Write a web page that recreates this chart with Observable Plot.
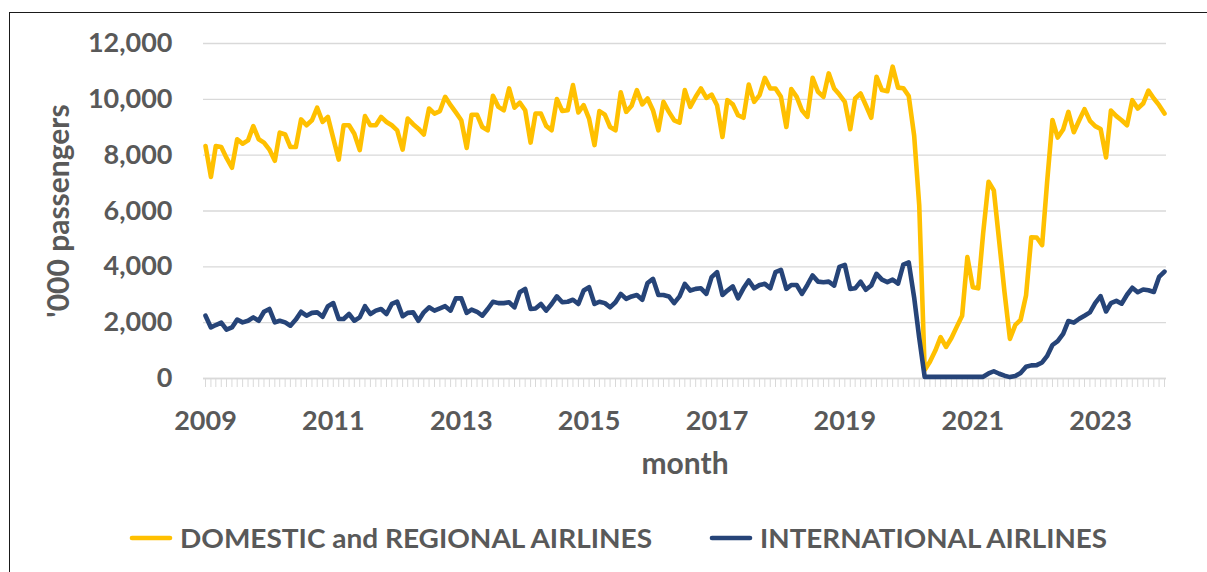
<!DOCTYPE html>
<html>
<head>
<meta charset="utf-8">
<script src="https://cdn.jsdelivr.net/npm/d3@7"></script>
<script src="https://cdn.jsdelivr.net/npm/@observablehq/plot@0.6"></script>
<style>
  body { margin: 0; background: #fff; }
  #wrap { position: relative; width: 1207px; height: 572px; overflow: hidden; background: #fff; font-family: Lato, "Open Sans", sans-serif; }
  #chart { position: absolute; left: 0; top: 0; }
  #legend { position: absolute; left: 0; top: 500px; }
  #frame { position: absolute; left: 9px; top: 12px; width: 1400px; height: 800px; border: 1px solid #1a1a1a; box-sizing: border-box; pointer-events: none; }
</style>
</head>
<body>
<div id="wrap">
  <div id="chart"></div>
  <div id="legend"></div>
  <div id="frame"></div>
</div>
<script>
// ---- data ('000 passengers, monthly Jan 2009 .. Jan 2024) ----
const seriesNames = ["DOMESTIC and REGIONAL AIRLINES", "INTERNATIONAL AIRLINES"];
const seriesColors = ["#FFC000", "#264478"];
const firstMonth = "2009-01-01";
const lastMonth = "2024-01-01";
const yearTicks = [2009, 2011, 2013, 2015, 2017, 2019, 2021, 2023];
const yTicks = [0, 2000, 4000, 6000, 8000, 10000, 12000];
const yTitle = "'000 passengers";
const xTitle = "month";

const domestic = [
  8330, 7220, 8330, 8290, 7900, 7550, 8570, 8410, 8530, 9040,
  8570, 8450, 8200, 7800, 8810, 8740, 8290, 8290, 9280, 9070,
  9250, 9700, 9190, 9370, 8600, 7840, 9070, 9070, 8770, 8180,
  9400, 9070, 9070, 9370, 9190, 9070, 8890, 8200, 9310, 9110,
  8950, 8740, 9670, 9490, 9580, 10090, 9790, 9530, 9250, 8260,
  9450, 9450, 9010, 8890, 10130, 9730, 9610, 10390, 9700, 9880,
  9610, 8450, 9490, 9490, 9050, 8890, 10010, 9580, 9610, 10510,
  9530, 9790, 9310, 8360, 9580, 9450, 9010, 8890, 10250, 9550,
  9770, 10330, 9820, 10030, 9610, 8890, 9910, 9550, 9250, 9170,
  10330, 9730, 10090, 10390, 10050, 10170, 9790, 8650, 9970, 9820,
  9430, 9340, 10530, 9910, 10150, 10770, 10390, 10390, 10090, 9010,
  10370, 10090, 9610, 9370, 10770, 10270, 10090, 10930, 10390, 10170,
  9910, 8930, 10030, 10210, 9790, 9340, 10810, 10330, 10290, 11170,
  10420, 10400, 10120, 8700, 6200, 300, 600, 1000, 1480, 1130,
  1450, 1850, 2250, 4350, 3270, 3230, 5200, 7050, 6740, 4900,
  3100, 1420, 1920, 2100, 2970, 5060, 5050, 4780, 7000, 9260,
  8630, 8920, 9550, 8820, 9250, 9650, 9230, 9040, 8940, 7920,
  9600, 9400, 9250, 9070, 9970, 9670, 9850, 10310, 10030, 9790,
  9490
];

const international = [
  2250, 1830, 1915, 2000, 1750, 1830, 2110, 2010, 2070, 2190,
  2070, 2390, 2490, 2010, 2070, 2010, 1890, 2110, 2390, 2250,
  2350, 2370, 2210, 2590, 2700, 2130, 2130, 2310, 2070, 2190,
  2590, 2310, 2430, 2490, 2310, 2670, 2750, 2230, 2350, 2370,
  2070, 2370, 2550, 2430, 2510, 2590, 2430, 2870, 2870, 2350,
  2470, 2390, 2250, 2490, 2750, 2700, 2700, 2730, 2550, 3090,
  3210, 2490, 2510, 2670, 2430, 2670, 2940, 2730, 2750, 2820,
  2670, 3150, 3270, 2670, 2750, 2700, 2550, 2730, 3030, 2850,
  2940, 2990, 2820, 3420, 3570, 2990, 2990, 2940, 2700, 2940,
  3390, 3150, 3210, 3230, 3030, 3630, 3810, 2990, 3150, 3300,
  2870, 3230, 3510, 3230, 3350, 3390, 3230, 3810, 3890, 3210,
  3350, 3350, 3030, 3350, 3690, 3470, 3450, 3470, 3330, 4000,
  4070, 3210, 3230, 3470, 3180, 3330, 3750, 3540, 3450, 3540,
  3400, 4080, 4160, 2900, 1450, 60, 60, 60, 60, 60,
  60, 60, 60, 60, 60, 60, 60, 180, 260, 170,
  100, 50, 90, 200, 420, 470, 480, 575, 800, 1200,
  1340, 1600, 2060, 2000, 2140, 2250, 2370, 2700, 2950, 2400,
  2700, 2780, 2680, 3000, 3250, 3090, 3190, 3160, 3100, 3640,
  3830
];

// ---- build table ----
const months = d3.utcMonth.range(new Date(firstMonth), d3.utcMonth.offset(new Date(lastMonth), 1));
const rows = [];
months.forEach((m, i) => {
  rows.push({date: m, value: domestic[i], series: seriesNames[0]});
});
months.forEach((m, i) => {
  rows.push({date: m, value: international[i], series: seriesNames[1]});
});
const yearDates = yearTicks.map(y => new Date(Date.UTC(y, 0, 1)));

const textColor = "#595959";
const gridColor = "#d9d9d9";

const chart = Plot.plot({
  width: 1207,
  height: 500,
  marginLeft: 203,
  marginRight: 41,
  marginTop: 43,
  marginBottom: 122,
  style: {fontFamily: "Lato, 'Open Sans', sans-serif", fontSize: "27px", fontWeight: "bold", color: textColor, background: "transparent"},
  x: {type: "utc", domain: [new Date(firstMonth), new Date(lastMonth)], insetLeft: 2, insetRight: 2},
  y: {domain: [0, 12000]},
  color: {domain: seriesNames, range: seriesColors},
  marks: [
    Plot.gridY(yTicks, {stroke: gridColor, strokeOpacity: 1, strokeWidth: 1.3}),
    Plot.axisY(yTicks, {tickSize: 0, tickPadding: 31, tickFormat: d3.format(","), label: null, fontSize: 27, fontWeight: "bold"}),
    Plot.axisX(months, {tickSize: 9, tickFormat: () => "", label: null, stroke: gridColor, strokeOpacity: 1, strokeWidth: 1}),
    Plot.axisX(yearDates, {tickSize: 0, tickPadding: 32, tickFormat: d3.utcFormat("%Y"), label: null, fontSize: 27, fontWeight: "bold"}),
    Plot.ruleY([0], {stroke: gridColor, strokeWidth: 1.3}),
    Plot.text([yTitle], {text: d => d, frameAnchor: "left", textAnchor: "middle", dx: -144, rotate: -90, fontSize: 30, fontWeight: "bold", fill: textColor}),
    Plot.text([xTitle], {text: d => d, frameAnchor: "bottom", textAnchor: "middle", dy: 95, fontSize: 30, fontWeight: "bold", fill: textColor}),
    Plot.line(rows, {x: "date", y: "value", stroke: "series", z: "series", strokeWidth: 4.6, strokeLinejoin: "round", strokeLinecap: "round"})
  ]
});
document.getElementById("chart").appendChild(chart);

// ---- legend below the plot ----
const legendItems = [
  {name: seriesNames[0], color: seriesColors[0], x0: 130, tx: 180, w: 472},
  {name: seriesNames[1], color: seriesColors[1], x0: 710, tx: 760, w: 347}
];
const ns = "http://www.w3.org/2000/svg";
const lsvg = document.createElementNS(ns, "svg");
lsvg.setAttribute("width", 1207);
lsvg.setAttribute("height", 72);
legendItems.forEach(it => {
  const line = document.createElementNS(ns, "line");
  line.setAttribute("x1", it.x0 + 2);
  line.setAttribute("x2", it.x0 + 40);
  line.setAttribute("y1", 38);
  line.setAttribute("y2", 38);
  line.setAttribute("stroke", it.color);
  line.setAttribute("stroke-width", 4.6);
  line.setAttribute("stroke-linecap", "round");
  lsvg.appendChild(line);
  const t = document.createElementNS(ns, "text");
  t.setAttribute("x", it.tx);
  t.setAttribute("y", 48);
  t.setAttribute("fill", textColor);
  t.setAttribute("font-family", "Lato, 'Open Sans', sans-serif");
  t.setAttribute("font-weight", "bold");
  t.setAttribute("font-size", 27);
  t.setAttribute("textLength", it.w);
  t.setAttribute("lengthAdjust", "spacingAndGlyphs");
  t.textContent = it.name;
  lsvg.appendChild(t);
});
document.getElementById("legend").appendChild(lsvg);
</script>
</body>
</html>
